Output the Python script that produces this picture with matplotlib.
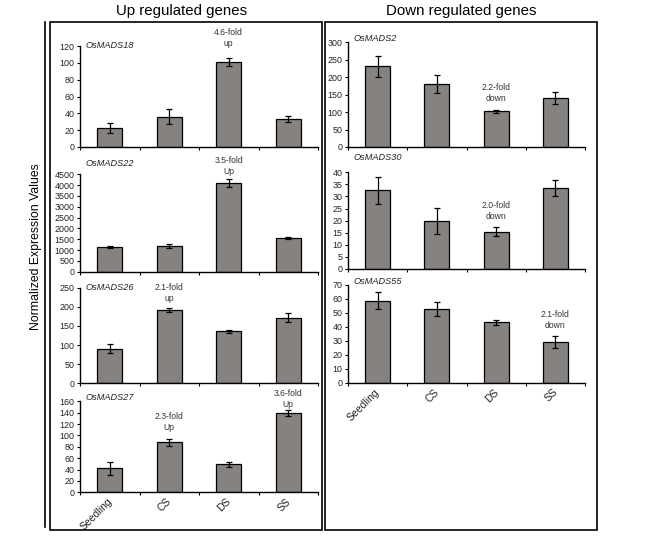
import matplotlib
matplotlib.use('Agg')
import matplotlib.pyplot as plt
from matplotlib.patches import Rectangle
from matplotlib.lines import Line2D

plt.rcParams['font.family'] = ['Liberation Sans', 'DejaVu Sans']

stages = ['Seedling', 'CS', 'DS', 'SS']

# up regulated genes
mads18 = [23, 36, 101, 33]
mads18_err = [6, 9, 5, 3.5]
mads22 = [1160, 1200, 4100, 1550]
mads22_err = [50, 100, 180, 40]
mads26 = [91, 192, 136, 172]
mads26_err = [12, 6, 4, 11]
mads27 = [42, 88, 49, 139]
mads27_err = [12, 6.5, 5, 5]

# down regulated genes
mads2 = [231, 180, 102, 140]
mads2_err = [31, 25, 4, 18]
mads30 = [32.5, 19.8, 15.5, 33.4]
mads30_err = [5.6, 5.4, 1.7, 3.3]
mads55 = [58.5, 52.8, 43, 28.8]
mads55_err = [6, 5, 2, 4.3]

W, H = 651, 537
fig = plt.figure(figsize=(W / 100, H / 100), dpi=100)


def px_axes(x0, x1, ytop, ybot):
    return fig.add_axes([x0 / W, 1 - ybot / H, (x1 - x0) / W, (ybot - ytop) / H])


def panel(x0, x1, ytop, ybot, name, vals, errs, ymax, step, name_y, notes, bottom=False):
    ax = px_axes(x0, x1, ytop, ybot)
    xs = [i + 0.5 for i in range(len(vals))]
    ax.bar(xs, vals, width=0.42, color='#858280', edgecolor='black', linewidth=0.9,
           yerr=errs, error_kw=dict(ecolor='black', elinewidth=0.9, capsize=2.2, capthick=0.9))
    ax.set_xlim(0, 4)
    ax.set_ylim(0, ymax)
    ax.set_yticks(list(range(0, ymax + 1, step)))
    ax.set_xticks([0, 1, 2, 3, 4])
    ax.set_xticklabels([])
    ax.spines['top'].set_visible(False)
    ax.spines['right'].set_visible(False)
    for s in ['left', 'bottom']:
        ax.spines[s].set_linewidth(1.0)
    ax.tick_params(axis='both', direction='out', length=2.5, width=0.8, labelsize=6.4, pad=1.5,
                   colors='black')
    ax.tick_params(axis='y', labelcolor='#222222')
    if bottom:
        # labels hang a little right of the bar centres
        ax.set_xticks([x + 0.07 for x in xs], minor=True)
        ax.set_xticklabels(stages, minor=True, rotation=45, ha='right', fontsize=7.5,
                           color='#222222')
        ax.tick_params(axis='x', which='minor', length=0, pad=3)
    ax.text(0.022, name_y, name, transform=ax.transAxes, fontsize=6.6, style='italic',
            color='#222222', ha='left', va='center', clip_on=False)
    for xi, yv, label in notes:
        ax.text(xi + 0.5, yv, label, fontsize=6.2, color='#333333', ha='center', va='center',
                linespacing=1.3, clip_on=False)
    ax.patch.set_alpha(0)
    return ax


# left column
panel(80, 318, 46, 147, 'OsMADS18', mads18, mads18_err, 120, 20, 1.0,
      [(2, 129.5, '4.6-fold\nup')])
panel(80, 318, 174.3, 271.7, 'OsMADS22', mads22, mads22_err, 4500, 500, 1.116,
      [(2, 4900, '3.5-fold\nUp')])
panel(80, 318, 287.7, 383.3, 'OsMADS26', mads26, mads26_err, 250, 50, 1.0,
      [(1, 237, '2.1-fold\nup')])
panel(80, 318, 401.3, 492.3, 'OsMADS27', mads27, mads27_err, 160, 20, 1.047,
      [(3, 164, '3.6-fold\nUp'), (1, 124, '2.3-fold\nUp')], bottom=True)

# right column
panel(348, 585, 42.3, 147, 'OsMADS2', mads2, mads2_err, 300, 50, 1.041,
      [(2, 155, '2.2-fold\ndown')])
panel(348, 585, 172.3, 269, 'OsMADS30', mads30, mads30_err, 40, 5, 1.151,
      [(2, 24, '2.0-fold\ndown')])
panel(348, 585, 284.7, 382.7, 'OsMADS55', mads55, mads55_err, 70, 10, 1.03,
      [(3, 45, '2.1-fold\ndown')], bottom=True)

# frames around the two groups
for bx0, bx1 in [(50, 322), (325, 597)]:
    fig.patches.append(Rectangle((bx0 / W, 1 - 530 / H), (bx1 - bx0) / W, (530 - 22) / H,
                                 transform=fig.transFigure, fill=False, edgecolor='black',
                                 linewidth=1.2))
fig.lines.append(Line2D([45 / W, 45 / W], [1 - 22 / H, 1 - 527 / H], transform=fig.transFigure,
                        color='black', linewidth=1.2))

fig.text(182 / W, 1 - 11 / H, 'Up regulated genes', fontsize=10.8, ha='center', va='center')
fig.text(461 / W, 1 - 11 / H, 'Down regulated genes', fontsize=10.8, ha='center', va='center')
fig.text(36 / W, 1 - 247 / H, 'Normalized Expression Values', fontsize=8.8, rotation=90,
         ha='center', va='center')

fig.savefig('out.png', dpi=100)
